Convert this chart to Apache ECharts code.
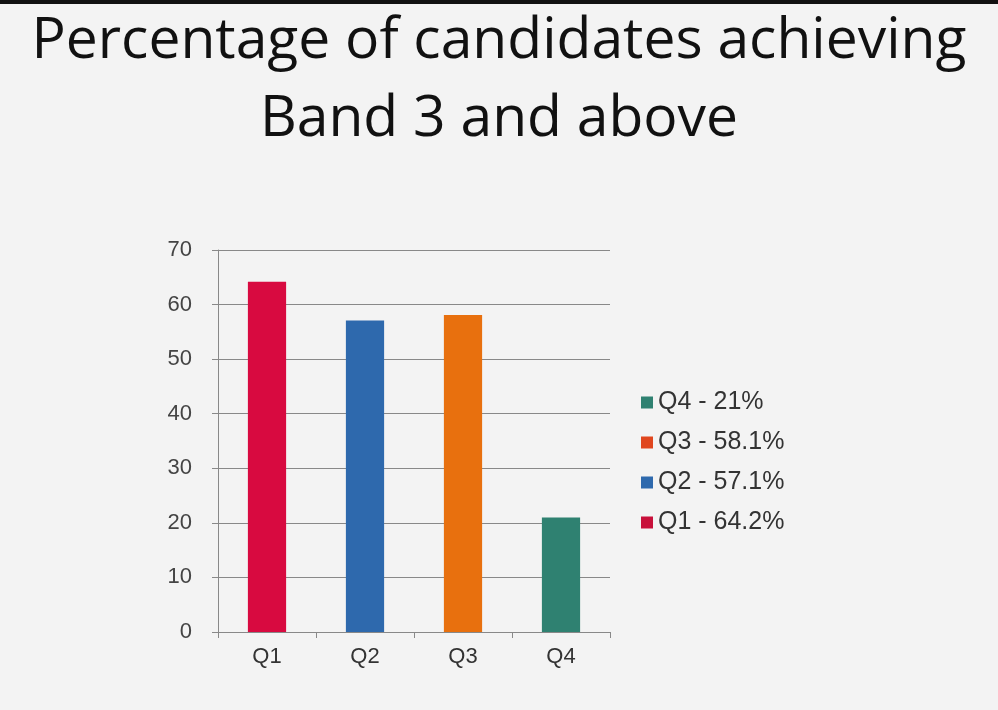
<!DOCTYPE html>
<html><head><meta charset="utf-8">
<script src="https://cdn.jsdelivr.net/npm/echarts@6/dist/echarts.min.js"></script>
<style>html,body{margin:0;background:#f3f3f3}#c{width:998px;height:710px;border-top:4px solid #111;box-sizing:border-box}</style>
</head><body><div id="c"></div>
<script>
const categories = ['Q1','Q2','Q3','Q4'];
const values = [64.2, 57.1, 58.1, 21];
const legendLabels = ['Q1 - 64.2%','Q2 - 57.1%','Q3 - 58.1%','Q4 - 21%'];
const colors = ['#d80a40','#2e69ad','#e8700e','#2f8171'];
const legendColors = ['#c8103a','#2e69ad','#e0461e','#2f8171'];
const yTicks = [0,10,20,30,40,50,60,70];

const chart = echarts.init(document.getElementById('c'));
const series = categories.map((c,i)=>({
  name: legendLabels[i], type:'bar', stack:'s', barWidth:'39%',
  itemStyle:{color:colors[i]},
  data: categories.map((_,j)=> j===i ? values[i] : null)
}));
chart.setOption({
  backgroundColor:'#f3f3f3',
  title:{text:'Percentage of candidates achieving\nBand 3 and above', left:'center', top:-6,
    textStyle:{fontFamily:'Open Sans', fontWeight:'normal', fontSize:57, color:'#111', lineHeight:78}},
  grid:{left:218, right:388, top:246, bottom:78},
  legend:{orient:'vertical', left:636, top:381, itemWidth:12, itemHeight:12, itemGap:15, icon:'rect',
    textStyle:{fontFamily:'Liberation Sans', fontSize:25, color:'#333'},
    data: [3,2,1,0].map(i=>({name:legendLabels[i], itemStyle:{color:legendColors[i]}}))},
  xAxis:{type:'category', data:categories,
    axisLine:{lineStyle:{color:'#888'}}, axisTick:{show:true, length:6, lineStyle:{color:'#888'}},
    axisLabel:{fontFamily:'Liberation Sans', fontSize:22, color:'#333', margin:14}},
  yAxis:{type:'value', min:yTicks[0], max:yTicks[yTicks.length-1], interval:10,
    axisLine:{show:true, lineStyle:{color:'#888'}}, axisTick:{show:true, length:6, lineStyle:{color:'#888'}},
    splitLine:{lineStyle:{color:'#888'}},
    axisLabel:{fontFamily:'Liberation Sans', fontSize:22, color:'#444', margin:26}},
  series
});
</script></body></html>
